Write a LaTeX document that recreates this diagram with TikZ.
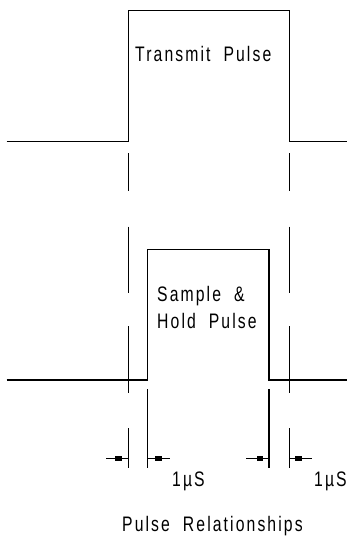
\documentclass[tikz,border=0pt]{standalone}
\usepackage{fontspec}
\setmainfont{Liberation Sans}[FakeStretch=0.75,LetterSpace=10]
\begin{document}
\begin{tikzpicture}[x=1pt,y=-1pt,
  wave/.style={line width=1.5pt,line join=miter},
  guide/.style={line width=1.5pt},
  marker/.style={fill=black,draw=none},
  lbl/.style={anchor=base west,inner sep=0pt,font=\fontsize{21}{25}\selectfont}]
\useasboundingbox (0,0) rectangle (347,542);
% top pulse (transmit)
\coordinate (t0) at (6.7,141.7);
\coordinate (t1) at (128.7,141.7);
\coordinate (t2) at (128.7,10.7);
\coordinate (t3) at (289.3,10.7);
\coordinate (t4) at (289.3,141.7);
\coordinate (t5) at (347,141.7);
\draw[wave] (t0) -- (t1) -- (t2) -- (t3) -- (t4) -- (t5);
% bottom pulse (sample & hold)
\coordinate (b0) at (6.7,380);
\coordinate (b1) at (147.3,380);
\coordinate (b2) at (147.3,249.3);
\coordinate (b3) at (269,249.3);
\coordinate (b4) at (269,380);
\coordinate (b5) at (347,380);
\draw[wave] (b0) -- (b1) -- (b2) -- (b3) -- (b4) -- (b5);
% broken guide lines from transmit pulse edges
\foreach \x in {128.7,289.3}{
  \draw[guide] (\x,153) -- (\x,191);
  \draw[guide] (\x,226.7) -- (\x,293.3);
  \draw[guide] (\x,326) -- (\x,393.3);
  \draw[guide] (\x,428.3) -- (\x,468.3);
}
% extension lines from sample pulse edges
\foreach \x in {147.3,269}{
  \draw[guide] (\x,389.3) -- (\x,468.3);
}
% dimension arrows
\draw[guide] (106,458.3) -- (128.7,458.3);
\fill[marker] (115,456) rectangle (121.7,460.6);
\draw[guide] (147.3,458.3) -- (170,458.3);
\fill[marker] (155,456) rectangle (161.7,460.6);
\draw[guide] (246,458.3) -- (269,458.3);
\fill[marker] (256.5,456) rectangle (263,460.6);
\draw[guide] (289.3,458.3) -- (311.7,458.3);
\fill[marker] (295.3,456) rectangle (301.7,460.6);
% labels
\node[lbl] (ltx) at (135,61) {Transmit\ \ Pulse};
\node[lbl] (lsh1) at (157,301) {Sample \ \&};
\node[lbl] (lsh2) at (157,328) {Hold\ \ Pulse};
\node[lbl] (lus1) at (172,486) {1µS};
\node[lbl] (lus2) at (314,486) {1µS};
\node[lbl] (lrel) at (122,531) {Pulse\ \ Relationships};
\end{tikzpicture}
\end{document}
